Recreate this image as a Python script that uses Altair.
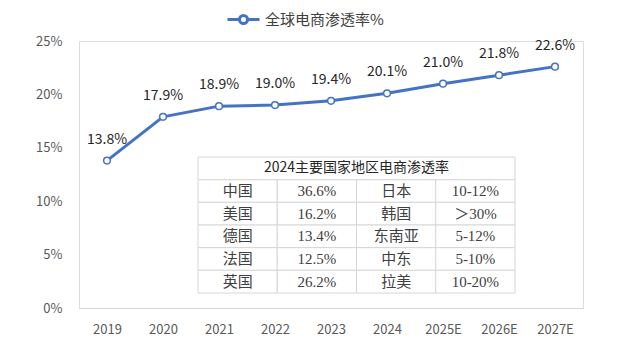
import altair as alt
import pandas as pd

# ---- data ----
years = ["2019", "2020", "2021", "2022", "2023", "2024", "2025E", "2026E", "2027E"]
rates = [13.8, 17.9, 18.9, 19.0, 19.4, 20.1, 21.0, 21.8, 22.6]
series_name = "全球电商渗透率%"

table_title = "2024主要国家地区电商渗透率"
left_names = ["中国", "美国", "德国", "法国", "英国"]
left_vals = ["36.6%", "16.2%", "13.4%", "12.5%", "26.2%"]
right_names = ["日本", "韩国", "东南亚", "中东", "拉美"]
right_vals = ["10-12%", "＞30%", "5-12%", "5-10%", "10-20%"]

BLUE = "#4472C4"
FONT = "Noto Sans CJK SC"
TFONT = "'Liberation Serif', 'Noto Sans CJK SC'"

df = pd.DataFrame({"year": years, "rate": rates, "series": [series_name] * len(years)})

x_enc = alt.X("year:N", sort=years, title=None,
              scale=alt.Scale(type="point", padding=0.5),
              axis=alt.Axis(labelAngle=0, ticks=False, domainColor="#d9d9d9", domainWidth=1,
                            labelColor="#595959", labelFontSize=13, labelFont=FONT, labelPadding=15,
                            grid=False))
y_enc = alt.Y("rate:Q", title=None,
              scale=alt.Scale(domain=[0, 25]),
              axis=alt.Axis(values=[0, 5, 10, 15, 20, 25], labelExpr="datum.value + '%'",
                            domain=False, ticks=False, grid=False, labelColor="#595959",
                            labelFontSize=13, labelFont=FONT, labelPadding=17))

legend_path = "M-1,0L-0.25,0M0.25,0L1,0M0.25,0A0.25,0.25,0,1,1,-0.25,0A0.25,0.25,0,1,1,0.25,0Z"

line = alt.Chart(df).mark_line(strokeWidth=3).encode(
    x=x_enc, y=y_enc,
    color=alt.Color("series:N", scale=alt.Scale(range=[BLUE]),
                    legend=alt.Legend(title=None, orient="none", legendX=147, legendY=-39,
                                      symbolType=legend_path, symbolSize=1024,
                                      symbolStrokeWidth=3, symbolFillColor="white",
                                      labelFontSize=15, labelFont=FONT, labelColor="#404040",
                                      labelOffset=4, padding=0)),
)
points = alt.Chart(df).mark_point(filled=True, fill="white", stroke=BLUE, strokeWidth=1.5,
                                  size=45, opacity=1).encode(x=x_enc, y=y_enc)
labels = alt.Chart(df).transform_calculate(
    lab="format(datum.rate, '.1f') + '%'"
).mark_text(dy=-21, fontSize=14, font=FONT, color="#262626").encode(
    x=x_enc, y=y_enc, text="lab:N")

chart_main = alt.layer(line, points, labels)

# ---- table ----
cells = []
for i in range(5):
    row = i + 1
    for c, txt in enumerate([left_names[i], left_vals[i], right_names[i], right_vals[i]]):
        cells.append({"c0": c, "c1": c + 1, "r0": row, "r1": row + 1,
                      "cx": c + 0.5, "cy": row + 0.5, "txt": txt})
cells.append({"c0": 0, "c1": 4, "r0": 0, "r1": 1, "cx": 2, "cy": 0.5, "txt": table_title})
tdf = pd.DataFrame(cells)
body = tdf[tdf["r0"] > 0]
head = tdf[tdf["r0"] == 0]

tx = alt.Scale(domain=[0, 4], range=[119, 436])
ty = alt.Scale(domain=[0, 6], range=[116, 252])

rects = alt.Chart(tdf).mark_rect(fill="white", stroke="#d6d6d6", strokeWidth=1).encode(
    x=alt.X("c0:Q", scale=tx, axis=None), x2="c1:Q",
    y=alt.Y("r0:Q", scale=ty, axis=None), y2="r1:Q")
body_text = alt.Chart(body).mark_text(fontSize=15, font=TFONT, color="#404040").encode(
    x=alt.X("cx:Q", scale=tx, axis=None), y=alt.Y("cy:Q", scale=ty, axis=None), text="txt:N")
head_text = alt.Chart(head).mark_text(fontSize=14, font=FONT, color="#262626").encode(
    x=alt.X("cx:Q", scale=tx, axis=None), y=alt.Y("cy:Q", scale=ty, axis=None), text="txt:N")

table = alt.layer(rects, body_text, head_text)

chart = alt.layer(chart_main, table).resolve_scale(x="independent", y="independent").properties(
    width=504, height=267,
    autosize=alt.AutoSizeParams(type="none"),
    padding={"left": 71, "top": 33, "right": 29, "bottom": 40},
).configure_view(stroke=None).configure(background="white")

chart.save("out.html", embed_options={"renderer": "svg", "actions": False})
